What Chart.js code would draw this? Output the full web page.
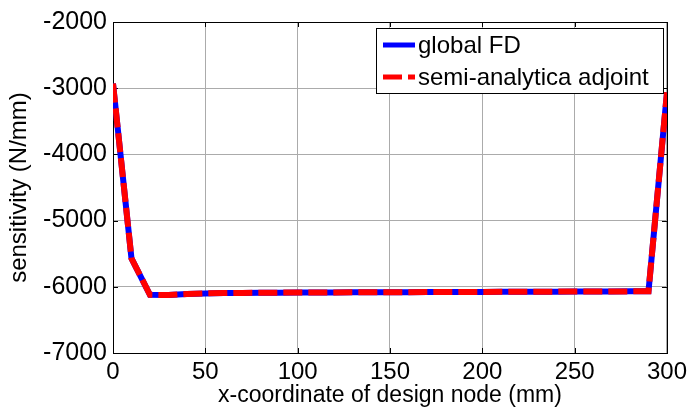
<!DOCTYPE html>
<html><head><meta charset="utf-8">
<script src="https://cdn.jsdelivr.net/npm/chart.js@4/dist/chart.umd.min.js"></script>
<style>html,body{margin:0;padding:0;background:#fff;}#wrap{width:692px;height:408px;}</style>
</head><body><div id="wrap"><canvas id="c" width="692" height="408"></canvas></div>
<script>
const xNodes = [0,10,20,30,40,50,60,70,80,90,100,110,120,130,140,150,160,170,180,190,200,210,220,230,240,250,260,270,280,290,300];
const globalFD = [-2930,-5570,-6120,-6125,-6110,-6100,-6095,-6092,-6090,-6088,-6087,-6086,-6085,-6084,-6083,-6082,-6081,-6080,-6079,-6078,-6077,-6076,-6075,-6074,-6073,-6072,-6071,-6070,-6069,-6067,-3060];
const semiAdjoint = [-2930,-5570,-6120,-6125,-6110,-6100,-6095,-6092,-6090,-6088,-6087,-6086,-6085,-6084,-6083,-6082,-6081,-6080,-6079,-6078,-6077,-6076,-6075,-6074,-6073,-6072,-6071,-6070,-6069,-6067,-3060];
const xTicks = [0,50,100,150,200,250,300];
const yTicks = [-7000,-6000,-5000,-4000,-3000,-2000];
const seriesLabels = ['global FD','semi-analytica adjoint'];
const xTitle = 'x-coordinate of design node (mm)';
const yTitle = 'sensitivity (N/mm)';

const FONT = "'Liberation Sans', Arial, sans-serif";

const framePlugin = {
  id: 'frame',
  beforeDatasetsDraw(chart) {
    const {ctx, chartArea: a, scales: {x, y}} = chart;
    ctx.save();
    ctx.strokeStyle = '#000';
    ctx.lineWidth = 1;
    ctx.beginPath();
    xTicks.forEach(v => {
      const px = Math.round(x.getPixelForValue(v)) + 0.5;
      ctx.moveTo(px, a.bottom); ctx.lineTo(px, a.bottom - 5);
      ctx.moveTo(px, a.top); ctx.lineTo(px, a.top + 5);
    });
    yTicks.forEach(v => {
      const py = Math.round(y.getPixelForValue(v)) + 0.5;
      ctx.moveTo(a.left, py); ctx.lineTo(a.left + 5, py);
      ctx.moveTo(a.right, py); ctx.lineTo(a.right - 5, py);
    });
    ctx.stroke();
    ctx.strokeRect(Math.round(a.left) + 0.5, Math.round(a.top) + 0.5, Math.round(a.width), Math.round(a.height));
    ctx.restore();
  },
  afterDatasetsDraw(chart) {
    const {ctx, chartArea: a} = chart;
    const ds = chart.data.datasets;
    const left = Math.round(a.right) - 291, top = Math.round(a.top) + 6, w = 287, h = 65;
    ctx.save();
    ctx.fillStyle = '#fff';
    ctx.fillRect(left, top, w, h);
    ctx.strokeStyle = '#000';
    ctx.lineWidth = 1;
    ctx.strokeRect(left + 0.5, top + 0.5, w, h);
    const rows = [top + 17, top + 49];
    ds.forEach((d, i) => {
      ctx.beginPath();
      ctx.strokeStyle = d.borderColor;
      ctx.lineWidth = 5;
      ctx.setLineDash(d.borderDash || []);
      ctx.moveTo(left + 7, rows[i]);
      ctx.lineTo(left + 39, rows[i]);
      ctx.stroke();
      ctx.setLineDash([]);
      ctx.fillStyle = '#000';
      ctx.font = '24px ' + FONT;
      ctx.textBaseline = 'middle';
      ctx.textAlign = 'left';
      ctx.fillText(d.label, left + 42, rows[i] + 1);
    });
    ctx.restore();
  }
};

new Chart(document.getElementById('c'), {
  type: 'line',
  data: {
    labels: xNodes,
    datasets: [
      { label: seriesLabels[0], order: 2, data: xNodes.map((v, i) => ({x: v, y: globalFD[i]})),
        borderColor: '#0000ff', borderWidth: 6, pointRadius: 0, tension: 0, fill: false },
      { label: seriesLabels[1], order: 1, data: xNodes.map((v, i) => ({x: v, y: semiAdjoint[i]})),
        borderColor: '#ff0000', borderWidth: 6, borderDash: [19, 6], pointRadius: 0, tension: 0, fill: false }
    ]
  },
  options: {
    responsive: false,
    devicePixelRatio: 1,
    animation: false,
    layout: { padding: { left: 0, top: 22, right: 23, bottom: 0 } },
    plugins: { legend: { display: false }, tooltip: { enabled: false } },
    scales: {
      x: {
        type: 'linear', min: 0, max: 300,
        afterBuildTicks: s => { s.ticks = xTicks.map(v => ({value: v})); },
        afterFit: s => { s.height = 55; },
        grid: { color: '#ababab', lineWidth: 1, drawTicks: false },
        border: { display: false },
        ticks: { autoSkip: false, maxRotation: 0, padding: 5, color: '#000', font: { size: 24, family: FONT },
                 callback: v => String(v) },
        title: { display: true, text: xTitle, color: '#000', font: { size: 23, family: FONT, lineHeight: 1.0 }, padding: { top: 0, bottom: 1 } }
      },
      y: {
        type: 'linear', min: -7000, max: -2000,
        afterBuildTicks: s => { s.ticks = yTicks.map(v => ({value: v})); },
        afterFit: s => { s.width = 113; },
        grid: { color: '#ababab', lineWidth: 1, drawTicks: false },
        border: { display: false },
        ticks: { autoSkip: false, padding: 6, color: '#000', font: { size: 25, family: FONT },
                 callback: v => String(v) },
        title: { display: true, text: yTitle, color: '#000', font: { size: 24, family: FONT, lineHeight: 1.2 }, padding: { top: 5, bottom: 0 } }
      }
    }
  },
  plugins: [framePlugin]
});
</script>
</body></html>
